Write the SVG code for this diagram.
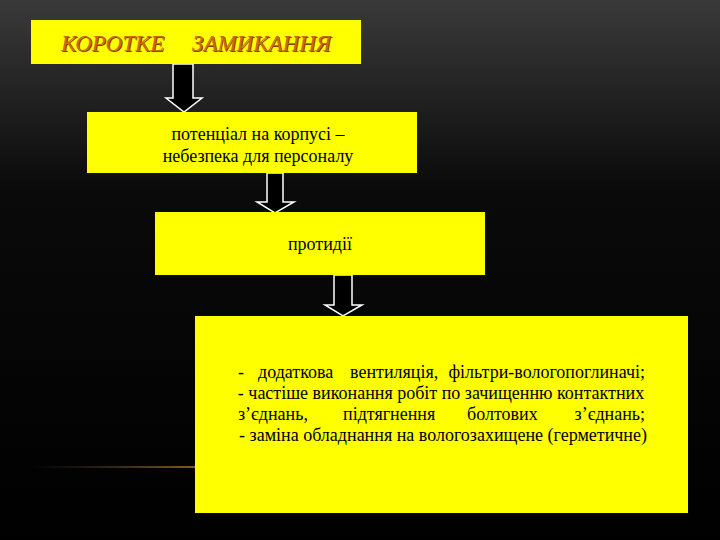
<svg xmlns="http://www.w3.org/2000/svg" width="720" height="540" viewBox="0 0 720 540">
<defs>
<linearGradient id="bg" x1="0" y1="0" x2="0" y2="1">
<stop offset="0" stop-color="#3a3a3a"/>
<stop offset="0.35" stop-color="#0a0a0a"/>
<stop offset="1" stop-color="#000"/>
</linearGradient>
<linearGradient id="glow" x1="0" y1="0" x2="1" y2="0">
<stop offset="0" stop-color="#6a4a20" stop-opacity="0"/>
<stop offset="1" stop-color="#a07030" stop-opacity="0.8"/>
</linearGradient>
<style>
.box{fill:#ffff00;}
.arr{fill:#000;stroke:#fff;stroke-width:1.5;}
.t{font-size:18px;fill:#000;}
.title{font-size:23px;font-style:italic;fill:#cc6a00;}
.sh{fill:#8a4000;}
</style>
</defs>
<rect width="720" height="540" fill="url(#bg)"/>
<rect x="30" y="466" width="166" height="2" fill="url(#glow)"/>
<g id="connectors">
<polygon class="arr" points="173,64 193,64 193,98 202,98 184,112 166,98 173,98"/>
<polygon class="arr" points="267,173 283,173 283,202 294,202 275,213 257,202 267,202"/>
<polygon class="arr" points="334,275 352,275 352,305 362,305 343,316 325,305 334,305"/>
</g>
<g font-family="Liberation Serif, DejaVu Serif, serif">
<g id="node1">
<rect class="box" x="31" y="20" width="330" height="44"/>
<text class="title sh" x="62" y="52">КОРОТКЕ</text>
<text class="title sh" x="193" y="52">ЗАМИКАННЯ</text>
<text class="title" x="61" y="51">КОРОТКЕ</text>
<text class="title" x="192" y="51">ЗАМИКАННЯ</text>
</g>
<g id="node2">
<rect class="box" x="87" y="112" width="330" height="61"/>
<text class="t" x="258" y="140" text-anchor="middle">потенціал на корпусі –</text>
<text class="t" x="258" y="162" text-anchor="middle">небезпека для персоналу</text>
</g>
<g id="node3">
<rect class="box" x="155" y="212" width="330" height="63"/>
<text class="t" x="320" y="250" text-anchor="middle">протидії</text>
</g>
<g id="node4">
<rect class="box" x="195" y="316" width="493" height="197"/>
<text class="t" x="238" y="378">-</text>
<text class="t" x="258" y="378">додаткова</text>
<text class="t" x="350" y="378">вентиляція,</text>
<text class="t" x="645" y="378" text-anchor="end">фільтри-вологопоглиначі;</text>
<text class="t" x="441" y="399" text-anchor="middle">- частіше виконання робіт по зачищенню контактних</text>
<text class="t" x="238" y="420">з’єднань,</text>
<text class="t" x="343" y="420">підтягнення</text>
<text class="t" x="467" y="420">болтових</text>
<text class="t" x="645" y="420" text-anchor="end">з’єднань;</text>
<text class="t" x="443" y="441" text-anchor="middle">- заміна обладнання на вологозахищене (герметичне)</text>
</g>
</g>
</svg>
